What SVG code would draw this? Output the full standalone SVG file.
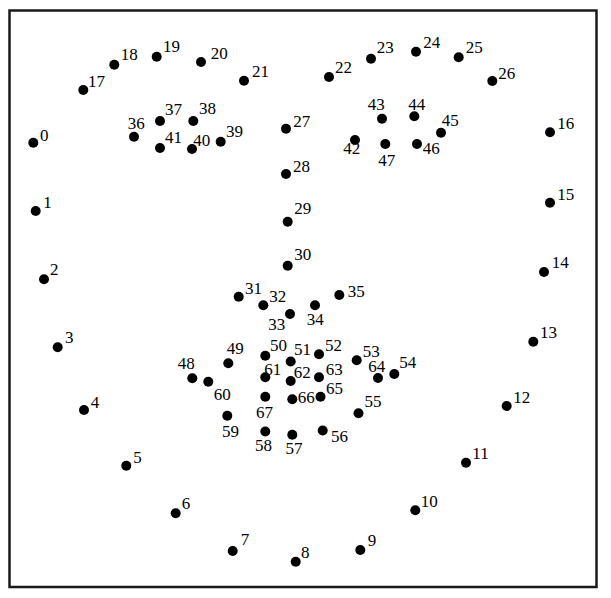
<svg xmlns="http://www.w3.org/2000/svg" width="611" height="598" viewBox="0 0 611 598">
<style>
.d{fill:#000}
.t{font-family:"Liberation Serif","Times New Roman",serif;font-size:17px;fill:#000}
</style>
<rect x="0" y="0" width="611" height="598" fill="#fff"/>
<rect x="9.5" y="10.5" width="587" height="576.5" fill="none" stroke="#1a1a1a" stroke-width="2.5"/>
<g id="p0"><circle class="d" cx="33.3" cy="142.7" r="5"/><text class="t" x="40" y="141">0</text></g>
<g id="p1"><circle class="d" cx="35.7" cy="211" r="5"/><text class="t" x="43.3" y="208.3">1</text></g>
<g id="p2"><circle class="d" cx="44" cy="279.3" r="5"/><text class="t" x="50" y="275">2</text></g>
<g id="p3"><circle class="d" cx="57.7" cy="347.3" r="5"/><text class="t" x="65" y="343.3">3</text></g>
<g id="p4"><circle class="d" cx="84" cy="410" r="5"/><text class="t" x="90.7" y="408.3">4</text></g>
<g id="p5"><circle class="d" cx="126.3" cy="465.7" r="5"/><text class="t" x="133.3" y="463.3">5</text></g>
<g id="p6"><circle class="d" cx="175.7" cy="513.3" r="5"/><text class="t" x="181.7" y="509.3">6</text></g>
<g id="p7"><circle class="d" cx="232.7" cy="551" r="5"/><text class="t" x="240.7" y="545">7</text></g>
<g id="p8"><circle class="d" cx="295.7" cy="561.7" r="5"/><text class="t" x="301" y="557.7">8</text></g>
<g id="p9"><circle class="d" cx="360.3" cy="550" r="5"/><text class="t" x="367.7" y="546">9</text></g>
<g id="p10"><circle class="d" cx="415.3" cy="510.3" r="5"/><text class="t" x="420.7" y="506.7">10</text></g>
<g id="p11"><circle class="d" cx="466" cy="462.7" r="5"/><text class="t" x="472.3" y="459.3">11</text></g>
<g id="p12"><circle class="d" cx="506.7" cy="406" r="5"/><text class="t" x="513.3" y="402.7">12</text></g>
<g id="p13"><circle class="d" cx="533.3" cy="341.7" r="5"/><text class="t" x="540" y="337.7">13</text></g>
<g id="p14"><circle class="d" cx="544" cy="272" r="5"/><text class="t" x="551.7" y="268.3">14</text></g>
<g id="p15"><circle class="d" cx="550" cy="202.7" r="5"/><text class="t" x="557.3" y="200">15</text></g>
<g id="p16"><circle class="d" cx="550" cy="132.3" r="5"/><text class="t" x="557.3" y="129.3">16</text></g>
<g id="p17"><circle class="d" cx="83.3" cy="90" r="5"/><text class="t" x="88" y="87">17</text></g>
<g id="p18"><circle class="d" cx="114.3" cy="64.7" r="5"/><text class="t" x="120.7" y="60">18</text></g>
<g id="p19"><circle class="d" cx="156.7" cy="56.7" r="5"/><text class="t" x="163" y="52">19</text></g>
<g id="p20"><circle class="d" cx="201" cy="62" r="5"/><text class="t" x="210.7" y="59">20</text></g>
<g id="p21"><circle class="d" cx="244" cy="80.7" r="5"/><text class="t" x="252" y="77">21</text></g>
<g id="p22"><circle class="d" cx="329" cy="77" r="5"/><text class="t" x="335" y="73.3">22</text></g>
<g id="p23"><circle class="d" cx="371" cy="58.7" r="5"/><text class="t" x="376.7" y="53.3">23</text></g>
<g id="p24"><circle class="d" cx="416" cy="51.7" r="5"/><text class="t" x="423.3" y="47.7">24</text></g>
<g id="p25"><circle class="d" cx="458.7" cy="57.3" r="5"/><text class="t" x="465.7" y="53.3">25</text></g>
<g id="p26"><circle class="d" cx="492.3" cy="81" r="5"/><text class="t" x="498.3" y="79.3">26</text></g>
<g id="p27"><circle class="d" cx="286" cy="128.7" r="5"/><text class="t" x="293.3" y="126.7">27</text></g>
<g id="p28"><circle class="d" cx="286" cy="174" r="5"/><text class="t" x="293" y="171.7">28</text></g>
<g id="p29"><circle class="d" cx="287.7" cy="221.7" r="5"/><text class="t" x="294.3" y="214">29</text></g>
<g id="p30"><circle class="d" cx="287.7" cy="265.7" r="5"/><text class="t" x="294.3" y="260">30</text></g>
<g id="p31"><circle class="d" cx="238.7" cy="296.7" r="5"/><text class="t" x="245" y="294">31</text></g>
<g id="p32"><circle class="d" cx="263.3" cy="305.3" r="5"/><text class="t" x="269.3" y="301.7">32</text></g>
<g id="p33"><circle class="d" cx="290" cy="314" r="5"/><text class="t" x="268.3" y="330">33</text></g>
<g id="p34"><circle class="d" cx="315" cy="305.3" r="5"/><text class="t" x="306.7" y="325">34</text></g>
<g id="p35"><circle class="d" cx="339.3" cy="295" r="5"/><text class="t" x="347.7" y="296.7">35</text></g>
<g id="p36"><circle class="d" cx="134" cy="136.7" r="5"/><text class="t" x="127.7" y="129.3">36</text></g>
<g id="p37"><circle class="d" cx="160" cy="121" r="5"/><text class="t" x="165" y="115">37</text></g>
<g id="p38"><circle class="d" cx="193.3" cy="121" r="5"/><text class="t" x="199" y="114.3">38</text></g>
<g id="p39"><circle class="d" cx="220.7" cy="141.7" r="5"/><text class="t" x="226" y="136.7">39</text></g>
<g id="p40"><circle class="d" cx="192" cy="149" r="5"/><text class="t" x="193.3" y="145.7">40</text></g>
<g id="p41"><circle class="d" cx="160" cy="148" r="5"/><text class="t" x="165" y="143.3">41</text></g>
<g id="p42"><circle class="d" cx="355" cy="140" r="5"/><text class="t" x="343.3" y="154">42</text></g>
<g id="p43"><circle class="d" cx="382" cy="118.7" r="5"/><text class="t" x="367.7" y="110">43</text></g>
<g id="p44"><circle class="d" cx="414.3" cy="116.3" r="5"/><text class="t" x="408.3" y="110">44</text></g>
<g id="p45"><circle class="d" cx="441" cy="132.7" r="5"/><text class="t" x="441.7" y="125.7">45</text></g>
<g id="p46"><circle class="d" cx="417" cy="144" r="5"/><text class="t" x="422.7" y="154">46</text></g>
<g id="p47"><circle class="d" cx="385.3" cy="144" r="5"/><text class="t" x="378.3" y="165.7">47</text></g>
<g id="p48"><circle class="d" cx="192.3" cy="378.3" r="5"/><text class="t" x="177.7" y="369.3">48</text></g>
<g id="p49"><circle class="d" cx="228.3" cy="363.3" r="5"/><text class="t" x="226.7" y="354">49</text></g>
<g id="p50"><circle class="d" cx="265.3" cy="355.7" r="5"/><text class="t" x="270" y="350.7">50</text></g>
<g id="p51"><circle class="d" cx="290.7" cy="361.5" r="5"/><text class="t" x="294" y="355">51</text></g>
<g id="p52"><circle class="d" cx="319" cy="354.3" r="5"/><text class="t" x="325" y="350.7">52</text></g>
<g id="p53"><circle class="d" cx="356.7" cy="360.3" r="5"/><text class="t" x="362.7" y="356.7">53</text></g>
<g id="p54"><circle class="d" cx="394.3" cy="374" r="5"/><text class="t" x="399.3" y="368.3">54</text></g>
<g id="p55"><circle class="d" cx="358.5" cy="413.3" r="5"/><text class="t" x="364.5" y="406.5">55</text></g>
<g id="p56"><circle class="d" cx="322.7" cy="430.5" r="5"/><text class="t" x="331" y="442">56</text></g>
<g id="p57"><circle class="d" cx="292.3" cy="434.7" r="5"/><text class="t" x="285.5" y="454">57</text></g>
<g id="p58"><circle class="d" cx="265.3" cy="431.5" r="5"/><text class="t" x="255" y="451">58</text></g>
<g id="p59"><circle class="d" cx="227.3" cy="415.7" r="5"/><text class="t" x="222" y="437">59</text></g>
<g id="p60"><circle class="d" cx="208.3" cy="381.7" r="5"/><text class="t" x="213.8" y="399.5">60</text></g>
<g id="p61"><circle class="d" cx="265.3" cy="377.3" r="5"/><text class="t" x="264.3" y="375">61</text></g>
<g id="p62"><circle class="d" cx="290.7" cy="381" r="5"/><text class="t" x="293.7" y="378.3">62</text></g>
<g id="p63"><circle class="d" cx="319" cy="377.3" r="5"/><text class="t" x="325.7" y="375">63</text></g>
<g id="p64"><circle class="d" cx="378" cy="378" r="5"/><text class="t" x="368.3" y="372.3">64</text></g>
<g id="p65"><circle class="d" cx="320.5" cy="396.7" r="5"/><text class="t" x="326" y="393.7">65</text></g>
<g id="p66"><circle class="d" cx="292.3" cy="399.3" r="5"/><text class="t" x="297.7" y="402.7">66</text></g>
<g id="p67"><circle class="d" cx="265.3" cy="396.7" r="5"/><text class="t" x="256" y="418.3">67</text></g>
</svg>
